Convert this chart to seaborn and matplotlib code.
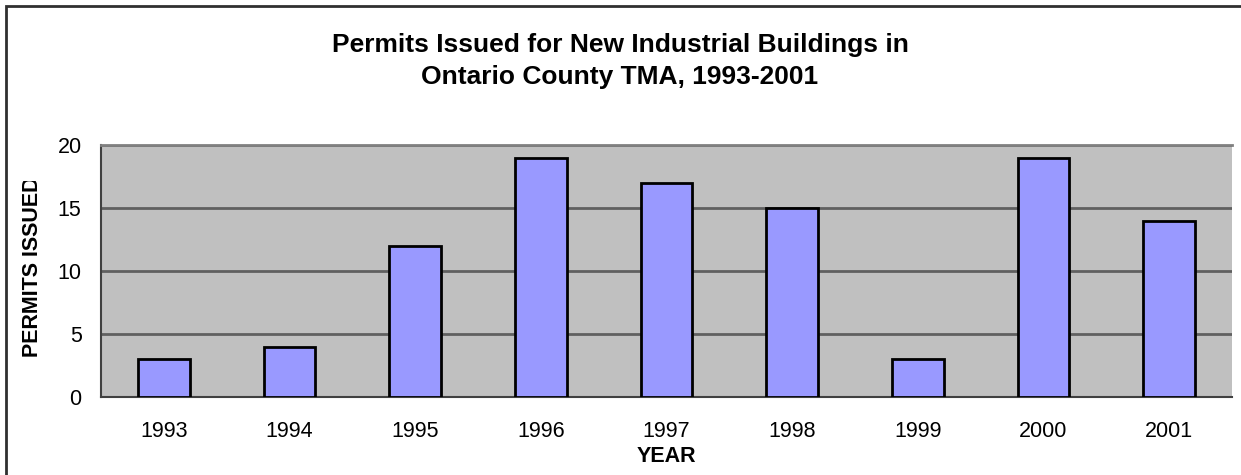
import matplotlib
matplotlib.use("Agg")
import matplotlib.pyplot as plt
import matplotlib.patches as mpatches
from matplotlib.transforms import Bbox
import seaborn as sns
import pandas as pd

years = ["1993", "1994", "1995", "1996", "1997", "1998", "1999", "2000", "2001"]
permits = [3, 4, 12, 19, 17, 15, 3, 19, 14]

df = pd.DataFrame({"Year": years, "Permits": permits})

sns.set_style("white")
plt.rcParams["font.family"] = ["Liberation Sans", "DejaVu Sans"]
plt.rcParams["text.color"] = "black"
plt.rcParams["xtick.color"] = "black"
plt.rcParams["ytick.color"] = "black"
plt.rcParams["axes.labelcolor"] = "black"

W, H = 1241, 475
fig = plt.figure(figsize=(W / 100, H / 100), dpi=100)
# axes placed in pixel terms of the original
ax = fig.add_axes([101 / W, 1 - 397 / H, (1232 - 101) / W, (397 - 145) / H])
ax.set_facecolor("#C0C0C0")

sns.barplot(data=df, x="Year", y="Permits", color="#9999FF", edgecolor="black",
            linewidth=2, width=0.41, saturation=1, ax=ax, zorder=3)

ax.set_ylim(0, 20)
ax.set_yticks([0, 5, 10, 15, 20])
ax.yaxis.grid(True, color="#606060", linewidth=2, zorder=0)
ax.set_axisbelow(True)
ax.set_xlim(-0.5, len(years) - 0.5)

# ticks between categories on the x axis
ax.set_xticks([i + 0.5 for i in range(len(years) - 1)], minor=True)
ax.tick_params(axis="x", which="major", length=0, pad=17, labelsize=15.5)
ax.tick_params(axis="x", which="minor", length=6, width=1, color="#404040", direction="out")
ax.tick_params(axis="y", length=6, width=1.5, color="#404040", direction="out", pad=8, labelsize=15.5)

for s in ["left", "bottom"]:
    ax.spines[s].set_color("#404040")
    ax.spines[s].set_linewidth(1.5)
ax.spines["top"].set_color("#808080")
ax.spines["top"].set_linewidth(2)
ax.spines["right"].set_visible(False)

ax.set_xlabel("YEAR", fontsize=15.5, fontweight="bold", labelpad=3)
ax.set_ylabel("")

ylab = fig.text(33 / W, 1 - 357 / H, "PERMITS ISSUED", rotation=90, ha="center", va="bottom",
                fontsize=15.5, fontweight="bold")
ylab.set_clip_on(True)
ylab.set_clip_box(Bbox.from_extents(0, 0, W, H - 181))

fig.text(620 / W, 1 - 61 / H,
         "Permits Issued for New Industrial Buildings in\nOntario County TMA, 1993-2001",
         ha="center", va="center", fontsize=19, fontweight="bold", linespacing=1.38)

# outer frame (top and left edges visible)
fig.patches.append(mpatches.Rectangle((6 / W, -0.1), 1.2, 1 - 6 / H + 0.1, transform=fig.transFigure,
                                      fill=False, edgecolor="#303030", linewidth=2))

fig.savefig("out.png", dpi=100)
